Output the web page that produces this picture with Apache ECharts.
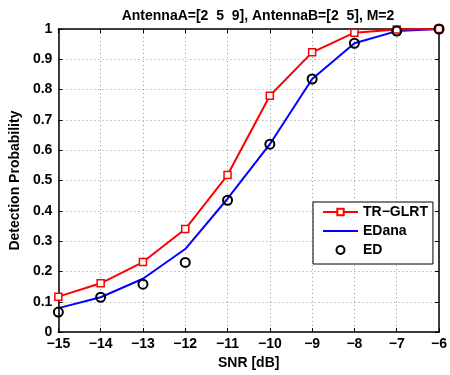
<!DOCTYPE html>
<html>
<head>
<meta charset="utf-8">
<script src="https://cdn.jsdelivr.net/npm/echarts@6/dist/echarts.min.js"></script>
<style>
  html, body { margin: 0; padding: 0; background: #fff; }
  #chart { width: 450px; height: 375px; }
</style>
</head>
<body>
<div id="chart"></div>
<script>
// SNR values in dB
const snr = [-15, -14, -13, -12, -11, -10, -9, -8, -7, -6];
// detection probability
const trGlrt = [0.117, 0.161, 0.231, 0.340, 0.518, 0.780, 0.923, 0.988, 0.998, 1.0];
const edAna = [0.079, 0.115, 0.176, 0.274, 0.440, 0.620, 0.835, 0.953, 0.993, 1.0];
const ed = [0.066, 0.115, 0.158, 0.230, 0.435, 0.620, 0.835, 0.953, 0.993, 1.0];

const font = 'Liberation Sans, Arial, Helvetica, sans-serif';
const minus = v => String(v).replace('-', '\u2212');

const chart = echarts.init(document.getElementById('chart'));

const gridLine = { show: true, lineStyle: { color: '#9a9a9a', type: [1, 3], width: 1 } };
const axisTick = { show: true, inside: true, length: 4, lineStyle: { color: '#000' } };
const labelStyle = { fontFamily: font, fontSize: 14, fontWeight: 'bold', color: '#000' };

chart.setOption({
  animation: false,
  title: {
    text: 'AntennaA=[2  5  9], AntennaB=[2  5], M=2',
    left: 253, top: 4, textAlign: 'center',
    textStyle: { fontFamily: font, fontSize: 14, fontWeight: 'bold', color: '#000' }
  },
  grid: { left: 57, right: 2, top: 29, bottom: 38 },
  legend: {
    orient: 'vertical',
    left: 313, top: 202,
    padding: [3, 5, 7, 9],
    itemGap: 5,
    itemWidth: 35, itemHeight: 8,
    backgroundColor: '#fff',
    borderColor: '#000', borderWidth: 1, borderRadius: 0,
    textStyle: labelStyle,
    data: [
      { name: 'TR\u2212GLRT' },
      { name: 'EDana', itemStyle: { color: 'rgba(0,0,0,0)', borderWidth: 0 } },
      { name: 'ED', itemStyle: { color: '#fff', borderColor: '#000', borderWidth: 2, opacity: 1 } }
    ]
  },
  xAxis: [{
    type: 'value', min: -15, max: -6, interval: 1,
    name: 'SNR [dB]', nameLocation: 'middle', nameGap: 21,
    nameTextStyle: labelStyle,
    axisLine: { show: true, onZero: false, lineStyle: { color: '#000', width: 1.5 } },
    axisTick: axisTick,
    axisLabel: Object.assign({ margin: 5, formatter: minus }, labelStyle),
    splitLine: gridLine
  }, {
    type: 'value', min: -15, max: -6, interval: 1, position: 'top',
    axisLine: { show: true, onZero: false, lineStyle: { color: '#000', width: 1.5 } },
    axisTick: axisTick, axisLabel: { show: false }, splitLine: { show: false }
  }],
  yAxis: [{
    type: 'value', min: 0, max: 1, interval: 0.1,
    name: 'Detection Probability', nameLocation: 'middle', nameGap: 30,
    nameTextStyle: labelStyle,
    axisLine: { show: true, onZero: false, lineStyle: { color: '#000', width: 1.5 } },
    axisTick: axisTick,
    axisLabel: Object.assign({ margin: 6, formatter: v => (Math.round(v * 10) / 10).toString() }, labelStyle),
    splitLine: gridLine
  }, {
    type: 'value', min: 0, max: 1, interval: 0.1, position: 'right',
    axisLine: { show: true, onZero: false, lineStyle: { color: '#000', width: 1.5 } },
    axisTick: axisTick, axisLabel: { show: false }, splitLine: { show: false }
  }],
  series: [{
    name: 'TR\u2212GLRT', type: 'line',
    data: snr.map((x, i) => [x, trGlrt[i]]),
    symbol: 'rect', symbolSize: 7, showAllSymbol: true,
    lineStyle: { color: '#ff0000', width: 2 },
    itemStyle: { color: '#fff', borderColor: '#ff0000', borderWidth: 1.5 },
    z: 3
  }, {
    name: 'EDana', type: 'line',
    data: snr.map((x, i) => [x, edAna[i]]),
    symbol: 'none',
    lineStyle: { color: '#0000ff', width: 2 },
    itemStyle: { color: '#0000ff' },
    z: 2
  }, {
    name: 'ED', type: 'scatter',
    data: snr.map((x, i) => [x, ed[i]]),
    symbol: 'circle', symbolSize: 9,
    itemStyle: { color: 'rgba(255,255,255,0)', borderColor: '#000', borderWidth: 2, opacity: 1 },
    z: 4
  }]
});
</script>
</body>
</html>
